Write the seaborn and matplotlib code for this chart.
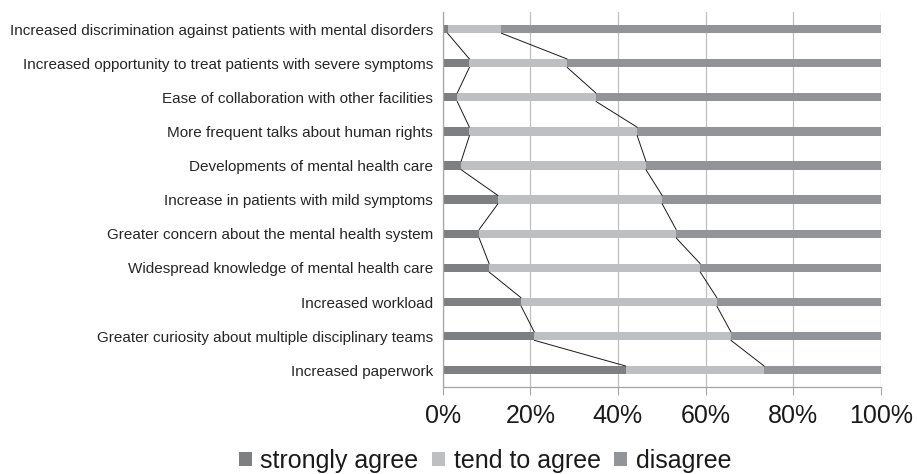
import numpy as np
import pandas as pd
import matplotlib
matplotlib.use('Agg')
import matplotlib.pyplot as plt
import seaborn as sns
from matplotlib.patches import Patch

# 数据 (从图上读取的百分比)
items = ['Increased discrimination against patients with mental disorders',
         'Increased opportunity to treat patients with severe symptoms',
         'Ease of collaboration with other facilities',
         'More frequent talks about human rights',
         'Developments of mental health care',
         'Increase in patients with mild symptoms',
         'Greater concern about the mental health system',
         'Widespread knowledge of mental health care',
         'Increased workload',
         'Greater curiosity about multiple disciplinary teams',
         'Increased paperwork']
strongly_agree = [1.1, 6.1, 3.3, 6.1, 4.2, 12.6, 8.3, 10.6, 17.9, 20.9, 41.8]
tend_to_agree = [12.3, 22.3, 31.7, 38.3, 42.2, 37.5, 45.0, 48.2, 44.7, 44.9, 31.6]
disagree = [100 - a - b for a, b in zip(strongly_agree, tend_to_agree)]
legend_labels = ['strongly agree', 'tend to agree', 'disagree']
colors = ['#7e7f81', '#bebfc1', '#939497']
xticks = [0, 20, 40, 60, 80, 100]

df = pd.DataFrame({'item': items, 'sa': strongly_agree, 'ta': tend_to_agree, 'dis': disagree})
df['c1'] = df['sa']
df['c2'] = df['sa'] + df['ta']
df['c3'] = df['c2'] + df['dis']

sns.set_style('white')
plt.rcParams['font.family'] = ['Liberation Sans', 'DejaVu Sans']

fig, ax = plt.subplots(figsize=(9.17, 4.74), dpi=100)
fig.subplots_adjust(left=0.4828, right=0.9604, bottom=0.1829, top=0.9747)

bw = 0.245
# 堆叠条形图: 从累计值最大的开始画
for col, c in zip(['c3', 'c2', 'c1'], colors[::-1]):
    sns.barplot(data=df, x=col, y='item', color=c, width=bw, orient='h',
                ax=ax, saturation=1, edgecolor='none', zorder=2)

# 系列线
ypos = np.arange(len(items))
for col in ['c1', 'c2', 'c3']:
    v = df[col].values
    for i in range(len(v) - 1):
        ax.plot([v[i], v[i + 1]], [ypos[i] + bw / 2, ypos[i + 1] - bw / 2],
                color='#1a1a1a', lw=0.7, zorder=3)

ax.set_xlim(0, 100)
ax.set_ylim(len(items) - 0.5, -0.5)
ax.set_xticks(xticks)
ax.set_xticklabels([f'{t}%' for t in xticks], fontsize=18, color='#1a1a1a')
ax.tick_params(axis='y', length=0, pad=7, labelsize=11, labelcolor='#262626')
ax.tick_params(axis='x', direction='out', length=6, width=0.8, color='#a6a6a6', pad=6, bottom=True)
ax.set_xlabel('')
ax.set_ylabel('')
ax.grid(axis='x', color='#bfbfbf', lw=0.9, zorder=0)
ax.set_axisbelow(True)
for s in ['top', 'right']:
    ax.spines[s].set_visible(False)
for s in ['left', 'bottom']:
    ax.spines[s].set_color('#a6a6a6')
    ax.spines[s].set_linewidth(0.9)

handles = [Patch(facecolor=c, edgecolor='none') for c in colors]
fig.legend(handles, legend_labels, loc='center', bbox_to_anchor=(0.529, 0.028), ncol=3,
           frameon=False, handlelength=0.5, handleheight=0.5, handletextpad=0.35,
           columnspacing=0.55, prop={'size': 18}, labelcolor='#1a1a1a')

plt.savefig('out.png', dpi=100)
